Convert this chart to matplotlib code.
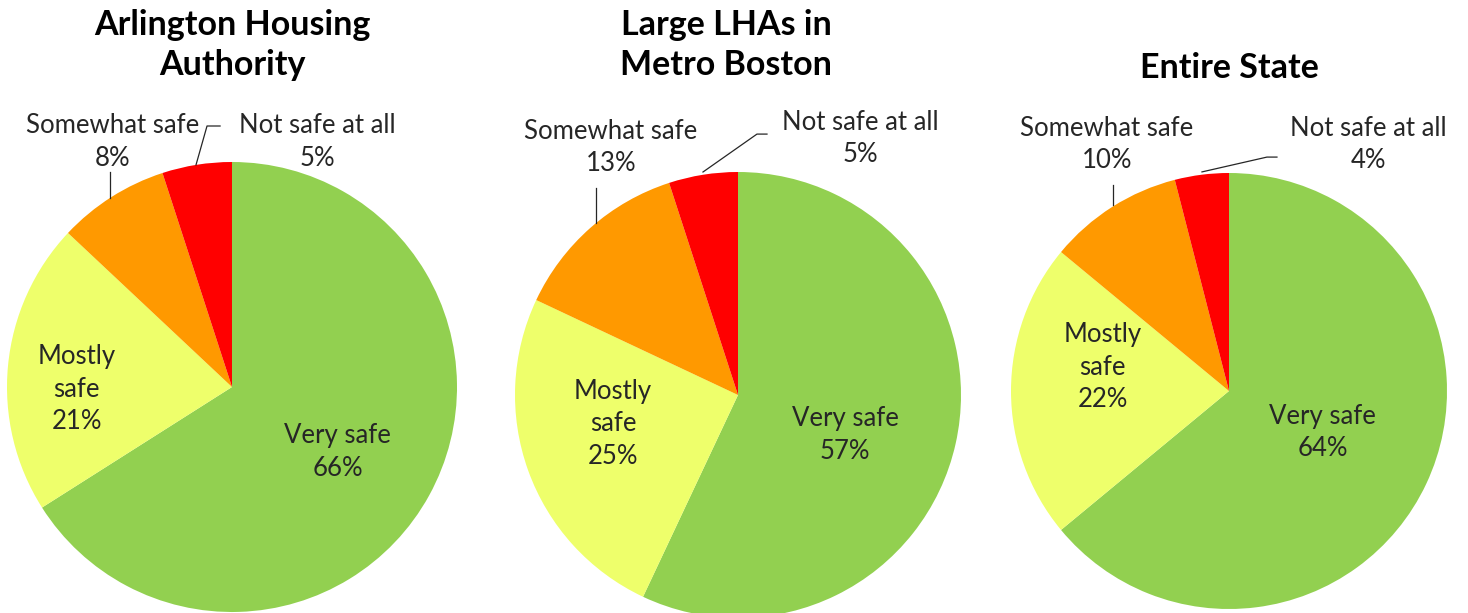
import matplotlib.pyplot as plt

plt.rcParams["font.family"] = ["Lato", "DejaVu Sans"]

W, H = 1468, 613

categories = ["Very safe", "Mostly safe", "Somewhat safe", "Not safe at all"]
colors = ["#92D050", "#EEFF6B", "#FF9900", "#FF0000"]

titles = ["Arlington Housing\nAuthority", "Large LHAs in\nMetro Boston", "Entire State"]
arlington = [66, 21, 8, 5]
metro_boston = [57, 25, 13, 5]
entire_state = [64, 22, 10, 4]
all_values = [arlington, metro_boston, entire_state]

# pie centre / radius in pixels
pies = [(232, 387, 225), (738, 395, 223), (1229, 391, 218)]

# label positions in pie-radius units
label_pos = [
    [(0.47, -0.29), (-0.69, -0.01), (-0.53, 1.09), (0.38, 1.09)],
    [(0.48, -0.18), (-0.56, -0.13), (-0.57, 1.11), (0.55, 1.15)],
    [(0.43, -0.19), (-0.58, 0.11), (-0.56, 1.13), (0.64, 1.13)],
]
label_text = ["Very safe", "Mostly\nsafe", "Somewhat safe", "Not safe at all"]

# leader lines (pie-radius units)
leaders = [
    [[(-0.542, 0.956), (-0.542, 0.84)],
     [(-0.053, 1.16), (-0.111, 1.16), (-0.16, 0.987)]],
    [[(-0.637, 0.928), (-0.637, 0.771)],
     [(0.130, 1.170), (0.085, 1.170), (-0.157, 1.0)]],
    [[(-0.532, 0.945), (-0.532, 0.853)],
     [(0.22, 1.073), (0.174, 1.073), (-0.124, 1.005)]],
]

title_pos = [(232, 45), (726, 45), (1229, 68)]

fig = plt.figure(figsize=(W / 100, H / 100), dpi=100)

for i, vals in enumerate(all_values):
    cx, cy, r = pies[i]
    ax = fig.add_axes([(cx - r) / W, (H - cy - r) / H, 2 * r / W, 2 * r / H])
    ax.pie(vals, colors=colors, startangle=90, counterclock=False, radius=1,
           wedgeprops={"linewidth": 0})
    ax.set_xlim(-1, 1)
    ax.set_ylim(-1, 1)
    ax.axis("off")

    for j, v in enumerate(vals):
        x, y = label_pos[i][j]
        ax.text(x, y, f"{label_text[j]}\n{v}%", ha="center", va="center",
                fontsize=18.5, color="#262626", linespacing=1.38, clip_on=False)

    for line in leaders[i]:
        xs = [p[0] for p in line]
        ys = [p[1] for p in line]
        ax.plot(xs, ys, color="#262626", lw=0.9, clip_on=False)

    tx, ty = title_pos[i]
    fig.text(tx / W, 1 - ty / H, titles[i], ha="center", va="center",
             fontsize=24.5, fontweight="bold", linespacing=1.3, color="black")

fig.savefig("out.png", dpi=100)
